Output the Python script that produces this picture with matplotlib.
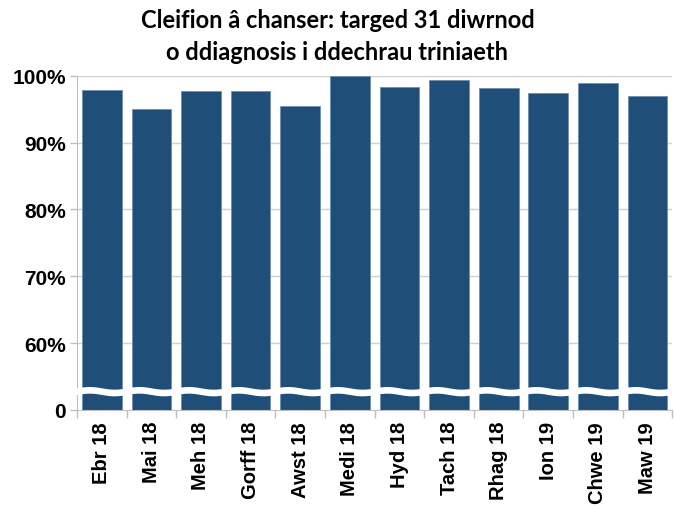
import numpy as np
import matplotlib
matplotlib.use("Agg")
import matplotlib.pyplot as plt

months = ["Ebr 18", "Mai 18", "Meh 18", "Gorff 18", "Awst 18", "Medi 18",
          "Hyd 18", "Tach 18", "Rhag 18", "Ion 19", "Chwe 19", "Maw 19"]
values = [97.9, 95.1, 97.8, 97.8, 95.5, 100.0, 98.4, 99.4, 98.2, 97.4, 99.0, 97.0]
ytick_vals = [50, 60, 70, 80, 90, 100]
ytick_labels = ["0", "60%", "70%", "80%", "90%", "100%"]
title_lines = ["Cleifion â chanser: targed 31 diwrnod",
               "o ddiagnosis i ddechrau triniaeth"]

bar_col = "#1f4e79"
grey = "#bfbfbf"

fig = plt.figure(figsize=(6.75, 5.06), dpi=100)
ax = fig.add_axes([0.114, 0.188, 0.882, 0.660])

x = np.arange(len(months))
# bars start below the axis floor; axis is broken between 0 and 60%
ax.bar(x, np.array(values) - 40, bottom=40, width=0.8, color=bar_col,
       edgecolor="#6f8fb0", linewidth=0.6, zorder=2)

ax.set_xlim(-0.5, len(months) - 0.5)
ax.set_ylim(50, 100)
ax.set_yticks(ytick_vals)
ax.set_yticklabels(ytick_labels, fontsize=15, fontweight="bold",
                   family="Liberation Sans")
ax.set_xticks(x)
ax.set_xticklabels(months, rotation=90, fontsize=14.5, fontweight="bold",
                   family="Liberation Sans")
ax.set_xticks(np.arange(-0.5, len(months)), minor=True)
ax.tick_params(axis="x", which="major", length=0, pad=8)
ax.tick_params(axis="x", which="minor", length=6, color=grey, width=1)
ax.tick_params(axis="y", length=5, color=grey, width=1, pad=3)

for v in ytick_vals[1:]:
    ax.axhline(v, color="#d0d0d0", linewidth=1, zorder=1)

for s in ["top", "right"]:
    ax.spines[s].set_visible(False)
ax.spines["left"].set_color(grey)
ax.spines["bottom"].set_color(grey)

# wavy break band
xw = np.linspace(-0.62, len(months) - 0.5, 800)
wave = 0.2 * np.sin(2 * np.pi * (xw + 0.5))
mid = 52.8
ax.fill_between(xw, mid - 0.5 + wave, mid + 0.5 + wave, color="white",
                zorder=3, clip_on=False, linewidth=0)

fig.text(0.5, 0.960, title_lines[0], ha="center", va="center",
         fontsize=17, fontweight="bold", family="Lato")
fig.text(0.5, 0.897, title_lines[1], ha="center", va="center",
         fontsize=17, fontweight="bold", family="Lato")

fig.savefig("out.png", dpi=100)
